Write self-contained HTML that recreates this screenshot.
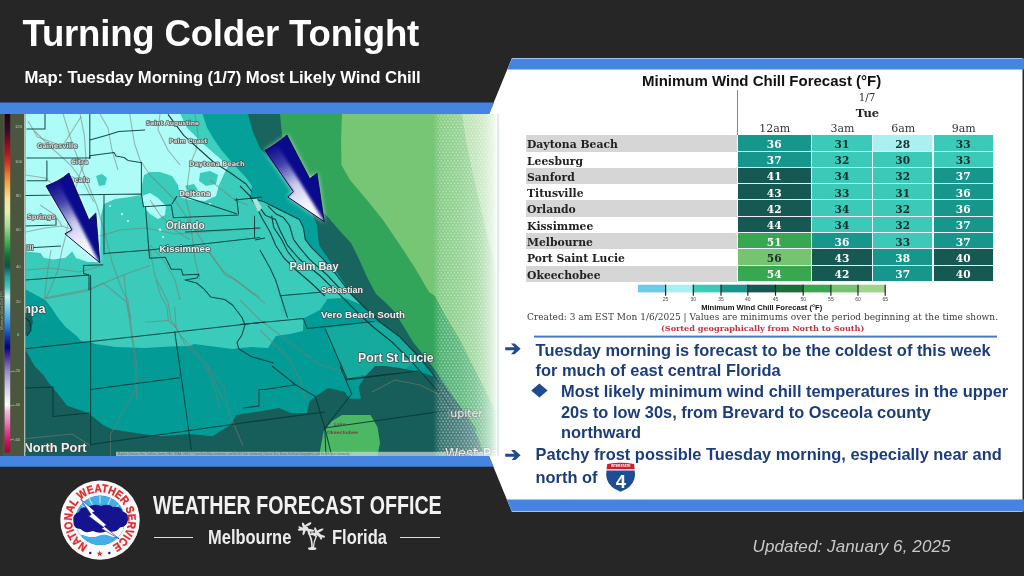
<!DOCTYPE html>
<html><head><meta charset="utf-8">
<style>
*{margin:0;padding:0;box-sizing:border-box}
html,body{width:1024px;height:576px;overflow:hidden;background:#262626}
body{position:relative;font-family:"Liberation Sans",sans-serif}
.abs{position:absolute;white-space:nowrap}
#title{left:22.5px;top:12.6px;font:bold 36.6px/41px "Liberation Sans",sans-serif;color:#fff;letter-spacing:-0.2px}
#sub{left:24.5px;top:67.8px;font:bold 16.7px/19px "Liberation Sans",sans-serif;color:#fff;letter-spacing:-0.1px}
#frame{position:absolute;left:0;top:0}
/* table */
#tt{left:642px;top:72px;font:bold 15px/17px "Liberation Sans",sans-serif;color:#111}
.ser{font-family:"DejaVu Serif",serif}
.lab{position:absolute;left:526px;width:211px;height:16px;font:bold 10.8px/16px "DejaVu Serif",serif;color:#222;padding-left:1px;padding-top:2px}
.lab.g{background:#d6d6d6}
.cell{position:absolute;height:16px;font:bold 10.6px/16px "DejaVu Serif",serif;text-align:center;border-right:1.2px solid #eef;border-bottom:1.2px solid #eef;padding-top:0.5px}
.hd{position:absolute;top:123.2px;font:11px/12px "DejaVu Serif",serif;color:#333;text-align:center}
.bul{position:absolute;font:bold 16.4px/20.6px "Liberation Sans",sans-serif;color:#1c3d7c;white-space:nowrap}
</style></head><body>

<svg id="frame" width="1024" height="576" viewBox="0 0 1024 576">
  <!-- right white panel -->
  <polygon points="512,58 1022.5,58 1022.5,512 512,512 489,456 489,114" fill="#ffffff"/>
  <!-- right top blue bar -->
  <polygon points="512,58.6 1024,58.6 1024,69.5 507.4,69.5" fill="#4684e2"/>
  <!-- right bottom blue bar -->
  <polygon points="506.8,499.6 1024,499.6 1024,511.6 512,511.6" fill="#4684e2"/>
  <!-- left top blue bar -->
  <polygon points="0,102.4 494,102.4 489.2,114.2 0,114.2" fill="#4684e2"/>
  <!-- left bottom blue bar -->
  <polygon points="0,456 489,456 493.6,466.8 0,466.8" fill="#4684e2"/>
  <!-- blue divider line -->
  <rect x="534" y="335.6" width="463" height="2" fill="#4a78c8"/>
</svg>

<div id="title" class="abs">Turning Colder Tonight</div>
<div id="sub" class="abs">Map: Tuesday Morning (1/7) Most Likely Wind Chill</div>

<svg class="abs" style="left:0;top:114px" width="500" height="342" viewBox="0 114 500 342">
<defs>
  <linearGradient id="fade" x1="433" y1="0" x2="500" y2="0" gradientUnits="userSpaceOnUse">
    <stop offset="0" stop-color="#fff" stop-opacity="0"/>
    <stop offset="0.12" stop-color="#fff" stop-opacity="0.12"/>
    <stop offset="0.4" stop-color="#fff" stop-opacity="0.22"/>
    <stop offset="0.63" stop-color="#fff" stop-opacity="0.36"/>
    <stop offset="0.75" stop-color="#fff" stop-opacity="0.5"/>
    <stop offset="0.85" stop-color="#fff" stop-opacity="0.68"/>
    <stop offset="0.925" stop-color="#fff" stop-opacity="0.86"/>
    <stop offset="0.965" stop-color="#fff" stop-opacity="1"/>
  </linearGradient>
  <pattern id="dots" x="0" y="0" width="3.3" height="5.6" patternUnits="userSpaceOnUse">
    <circle cx="0.8" cy="1.2" r="0.9" fill="#fff"/>
    <circle cx="2.45" cy="4" r="0.9" fill="#fff"/>
  </pattern>
  <linearGradient id="dotfade" x1="433" y1="0" x2="500" y2="0" gradientUnits="userSpaceOnUse">
    <stop offset="0" stop-color="#fff" stop-opacity="0"/>
    <stop offset="0.1" stop-color="#fff" stop-opacity="0.45"/>
    <stop offset="0.75" stop-color="#fff" stop-opacity="0.45"/>
    <stop offset="1" stop-color="#fff" stop-opacity="0"/>
  </linearGradient>
  <mask id="dotmask"><rect x="433" y="114" width="67" height="342" fill="url(#dotfade)"/></mask>
  <linearGradient id="leg" x1="0" y1="114" x2="0" y2="452" gradientUnits="userSpaceOnUse">
    <stop offset="0" stop-color="#1a0618"/>
    <stop offset="0.05" stop-color="#3a0c2a"/>
    <stop offset="0.08" stop-color="#7a0c22"/>
    <stop offset="0.12" stop-color="#c01420"/>
    <stop offset="0.15" stop-color="#e03828"/>
    <stop offset="0.18" stop-color="#f07838"/>
    <stop offset="0.21" stop-color="#f4b048"/>
    <stop offset="0.25" stop-color="#f6e09a"/>
    <stop offset="0.29" stop-color="#e8eeb0"/>
    <stop offset="0.33" stop-color="#a8dc98"/>
    <stop offset="0.36" stop-color="#6cc070"/>
    <stop offset="0.39" stop-color="#30a050"/>
    <stop offset="0.42" stop-color="#107030"/>
    <stop offset="0.45" stop-color="#105050"/>
    <stop offset="0.48" stop-color="#20a0a0"/>
    <stop offset="0.51" stop-color="#40c4c0"/>
    <stop offset="0.54" stop-color="#c4f2f2"/>
    <stop offset="0.57" stop-color="#80d0f0"/>
    <stop offset="0.6" stop-color="#50a8e8"/>
    <stop offset="0.63" stop-color="#2878d8"/>
    <stop offset="0.66" stop-color="#1038a8"/>
    <stop offset="0.69" stop-color="#000080"/>
    <stop offset="0.72" stop-color="#5030a0"/>
    <stop offset="0.76" stop-color="#9888c8"/>
    <stop offset="0.8" stop-color="#c8c0e4"/>
    <stop offset="0.84" stop-color="#eceaf4"/>
    <stop offset="0.86" stop-color="#ffffff"/>
    <stop offset="0.88" stop-color="#f4b8dc"/>
    <stop offset="0.91" stop-color="#f080c0"/>
    <stop offset="0.94" stop-color="#e04090"/>
    <stop offset="0.97" stop-color="#d01060"/>
    <stop offset="1" stop-color="#a80040"/>
  </linearGradient>
  <linearGradient id="arrg1" x1="74" y1="240" x2="87.5" y2="228" gradientUnits="userSpaceOnUse">
    <stop offset="0" stop-color="#f4f2ff"/>
    <stop offset="0.35" stop-color="#c8c6f4"/>
    <stop offset="0.6" stop-color="#4a48c0"/>
    <stop offset="0.8" stop-color="#14149c"/>
    <stop offset="1" stop-color="#06068a"/>
  </linearGradient>
  <linearGradient id="arrg2" x1="298.4" y1="198.9" x2="311.9" y2="186.9" gradientUnits="userSpaceOnUse">
    <stop offset="0" stop-color="#f4f2ff"/>
    <stop offset="0.35" stop-color="#c8c6f4"/>
    <stop offset="0.6" stop-color="#4a48c0"/>
    <stop offset="0.8" stop-color="#14149c"/>
    <stop offset="1" stop-color="#06068a"/>
  </linearGradient>
  <clipPath id="mapclip"><rect x="25.6" y="114" width="475" height="342"/></clipPath>
  <filter id="glow" x="-30%" y="-30%" width="160%" height="160%"><feGaussianBlur stdDeviation="2.5"/></filter>
  <filter id="tsh" x="-10%" y="-30%" width="120%" height="160%"><feMorphology operator="dilate" radius="0.6"/><feGaussianBlur stdDeviation="0.6"/></filter>
</defs>

<!-- legend -->
<rect x="0" y="114" width="25" height="342" fill="#4b563f"/>
<rect x="0" y="114" width="3" height="342" fill="#434d38"/>
<rect x="4.6" y="114" width="5.6" height="338.5" fill="url(#leg)"/>
<rect x="24.2" y="114" width="1.4" height="342" fill="#c8d8d0"/>
<g font-family="Liberation Sans" font-size="4.2" fill="#c8c8b8">
  <text x="15" y="128">120</text><text x="15" y="163">100</text><text x="16" y="197">80</text><text x="16" y="231">60</text>
  <text x="16" y="268">40</text><text x="16" y="303">20</text><text x="17" y="336">0</text><text x="14" y="372">-20</text>
  <text x="14" y="406">-40</text><text x="14" y="441">-60</text>
</g>
<g stroke="#c8c8b8" stroke-width="0.6"><line x1="10" y1="372" x2="14" y2="371"/><line x1="10" y1="406" x2="14" y2="405"/><line x1="10" y1="440" x2="14" y2="439"/></g>

<text transform="translate(3.4,330) rotate(-90)" font-family="Liberation Sans" font-size="3.6" fill="#aab4a4">Minimum Wind Chill (°F)</text>
<!-- map base: turquoise -->
<rect x="25.6" y="114" width="475" height="342" fill="#3acbbb"/>

<!-- light cyan north -->
<polygon fill="#aefcf8" points="25.6,114 180.6,114 187,127.6 202.5,143 213.4,152.6 222,160 228,166 224,174 219,185 216,196 205,201 190,200 180,197 178,185 172,176 160,172 150,172 144,175 142,185 141,195 130,197 115,199 104,204 101,215 100,252 72,251.5 65.6,257.8 53,259.4 43.75,257.8 40.6,253 25.6,251.5"/>
<polygon fill="#aefcf8" points="142,196 150,193 158,198 166,206 165,215 158,219 150,214 144,207"/>
<polygon fill="#aefcf8" points="72,251 100,250 100,262 88,262 76,258"/>
<!-- turquoise blobs in north -->
<polygon fill="#3acbbb" points="96,176 102,174 107,178 105,185 99,186"/>
<polygon fill="#3acbbb" points="200,173 210,171 218,175 216,184 206,186 199,181"/>
<polygon fill="#3acbbb" points="150,178 160,176 166,180 164,188 156,190 150,186"/>
<polygon fill="#3acbbb" points="185,186 194,184 198,190 190,194"/>
<!-- white specks -->
<g fill="#c0fcf8"><circle cx="122" cy="214" r="1.2"/><circle cx="128" cy="221" r="1"/><circle cx="160" cy="230" r="1.4"/><circle cx="163" cy="237" r="1"/><circle cx="110" cy="206" r="1"/><circle cx="210" cy="204" r="1.2"/></g>

<!-- teal south -->
<polygon fill="#039b96" points="25.6,289.4 45.3,300 51.6,308 57.8,317.5 65.6,327 76.6,336 81.25,341 90.6,342.5 95.3,344 115.6,347 145,348 170,346.4 190,346 194,344 232.5,349 240,348 252,347 268,348 276,336 290,334 303,331 303.4,318.6 304,300 325,299 345,298 362,305 380,322 400,337 420,358 435,377 435,456 25.6,456"/>
<polygon fill="#14aa9e" points="325,328.5 374.6,321.6 384,326 400,337 420,358 400,373 380,376 362,375 347,379 340,360 330,345"/>
<polygon fill="#34c6b8" points="279.6,296 323,292 327,300 320,310 303.4,318.6 282,316"/>
<!-- dark teal south -->
<polygon fill="#175d59" points="25.6,350 34.4,366 43.75,375.4 48.4,382.4 60,396.5 67.2,405.8 88.3,413 102.3,424.6 111.7,429.3 142,434 161,436.3 189,434 212.5,436.3 231,424.6 236,415 265,410.5 279,408 290.8,413 307,413 309.5,401 319,394 328,388 344.7,391.8 349.4,398.8 361,398.8 358.7,387 365.8,375.4 375,366 385,366 400,368 420,372 435,377 500,377 500,456 25.6,456"/>
<polygon fill="#175d59" points="25.6,308 30,311 33,322 30,333 25.6,336"/>
<!-- lake -->
<polygon fill="#4cb864" points="342,415 370.5,415 377.5,427 380,443 377.5,456 319,456 323.6,431.6 332,421"/>

<!-- ocean bands -->
<polygon fill="#3ccfbe" points="180.6,114 187,127.6 202.5,143 213.4,152.6 222,160 228,166 240,184 246,192 249.9,197.8 263.8,201.8 279.6,209.7 299.4,219.6 303.4,227.5 305.3,239.4 311.3,247.3 323.2,259.2 335,273 350.9,294 362,305 380,322 400,337 420,358 435,377 450,395 465,415 480,440 490,456 500,456 500,114"/>
<polygon fill="#05a09a" points="202.5,114 207,127.6 213.4,138.6 221,149.5 229,159 237,168 246,177.6 252,186 249.9,197.8 263.8,201.8 279.6,209.7 299.4,219.6 303.4,227.5 305.3,239.4 311.3,247.3 323.2,259.2 335,273 350.9,294 362,305 380,322 400,337 420,358 435,377 450,395 465,415 480,440 490,456 500,456 500,114"/>
<polygon fill="#18655f" points="248,114 252.5,130.75 260,148 270,160 282,175 295,190 308,205 317,225 319,245 331,263 342,280 351,294 362,305 380,322 400,337 420,358 435,377 450,395 465,415 480,440 490,456 500,456 500,114"/>
<polygon fill="#33a55b" points="280,114 282,135 286,150 300,174 312,195 322,212 327,216 339,230 351,243 359,259 367,277 376,294 385,302 394,311 404,327 413,342 426,358 438,374 450,392 462,410 475,430 485,456 500,456 500,114"/>
<polygon fill="#76c676" points="342,114 341,140 341.5,165 350,180 367,200 383,220 400,245 415,268 429,292 435,296 445,315 460,340 475,370 490,400 500,420 500,114"/>

<polygon fill="#a4d89a" points="462,114 466,140 472,170 479,200 486,231 494,262 500,286 500,114"/>
<!-- roads -->
<g fill="none" stroke="#7a7c70" stroke-width="1.1" stroke-opacity="0.55" stroke-linejoin="round">
  <polyline points="62.5,112 72,143 84,174.5 97,206 106,237 112,262 122,290 128,300 133,342 137.5,370 135,389.4 118.75,420 110.5,434 110.5,456"/>
  <polyline points="79.7,112 84.4,135.4 86,159 79.7,174.5 75,190 70,210 66,235 62,250 58,270 50,290 45.3,298.75"/>
  <polyline points="45.3,298.75 87.5,291 103,283 126.6,302 131,319"/>
  <polyline points="129.7,114 134.4,143 140,160 150,175 165,190 175,200 185,215 195,230 205,245 215,260 225,275 235.6,280 265,303.4"/>
  <polyline points="28,121 37.5,137 62.5,146 81,116.7"/>
  <polyline points="156,280 160.6,295.6 166.9,306.6 168.4,320.6 176,327 185.6,345.6 196.6,355 207.5,370 215,390 220,410"/>
  <polyline points="174.7,306.6 176,327"/>
  <polyline points="145,322 168.4,320.6"/>
  <polyline points="207.8,366 224,387 229,413 243,445.7"/>
  <polyline points="25,438.6 72,434 90.6,445.7"/>
  <polyline points="25.6,232 45,228 62,226 80,232 100,236 120,230 145,228 175,234 205,232 235,230 262,228"/>
  <polyline points="195,114 198,135 196,150 190,165 188,180 186,200 190,215 192,235 195,260 200,280"/>
  <polyline points="160,114 158,130 168,150 180,165"/>
  <polyline points="210,180 222,190 235,200 248,205"/>
  <polyline points="150,245 165,262 175,280 180,300"/>
  <polyline points="40,205 55,215 62,226"/>
  <polyline points="240,300 260,320 280,335 300,350 320,365 345,372"/>
  <polyline points="372,392 395,380 420,385 440,395"/>
  <polyline points="25.6,270 50,268 80,272 104,265"/>
  <polyline points="51,250 47,275 44.5,298"/>
  <polyline points="44.5,298 90,289 124,274.7 150,265.6"/>
  <polyline points="124,274.7 126.6,302 134.4,354 137,400"/>
  <polyline points="150,250 155,276 168,302 171,320 181,336 207,364.6 223,400"/>
  <polyline points="207,250 223,271 259,297"/>
  <polyline points="34.4,130.75 51.6,148 65.6,160.4 71.9,166.7 84.4,184 93.75,202"/>
  <polyline points="100,114 108,128 112,150 118,170"/>
  <polyline points="25.6,175 45,178 60,190 80,196"/>
  <polyline points="150,200 160,215 175,230 190,240"/>
  <polyline points="260,330 275,345 290,360 300,380 305,400"/>
</g>

<!-- county lines -->
<g fill="none" stroke="#073a37" stroke-width="1.05" stroke-opacity="0.9" stroke-linejoin="round">
  <polyline points="89.8,114 89.8,159"/>
  <polyline points="89.8,140 106,135.4 118.75,131.5 145,130"/>
  <polyline points="45,114 45,129 26.5,129"/>
  <polyline points="26.5,158 89.8,158 89.8,155.75 114,152.6 116,156 124,157.5 128,160.4 142,162.8"/>
  <polyline points="141.4,162 141.4,194.5"/>
  <polyline points="25.6,195.5 141.4,194 143.5,206.8 171.3,204.9 173.3,217.7 238.6,215"/>
  <polyline points="46.9,160.4 46.9,180.75 26.5,180.75"/>
  <polyline points="104,195 104,254.7"/>
  <polyline points="104,253.4 149.5,250 260,237.5"/>
  <polyline points="145.5,207 149.5,258.3 165.3,257.3 171.3,269.2 181.2,269.2 183,275 199,274.2 197,278 185,280 196.6,283 204.4,289.4 210.6,297 224.7,299.5 232.5,305 242,317.5 245,325 242,334.7 237,342.5 238.75,348.75 251,356.5 265,360.5 273.7,363"/>
  <polyline points="177,196 172,204"/>
  <polyline points="183,196 236.6,213.8"/>
  <polyline points="234.6,200 262,197"/>
  <polyline points="236.6,198 238.6,214"/>
  <polyline points="254.5,215.7 254.5,237.5"/>
  <polyline points="185,232 260,228"/>
  <polyline points="25.6,226 56,225 56,218"/>
  <polyline points="25.6,248 61,246"/>
  <polyline points="83.6,265.6 103,264.8"/>
  <polyline points="83.6,265.6 83.6,273.4 89,275"/>
  <polyline points="25.6,280 89,275 89,290"/>
  <polyline points="90.6,275 90.6,446"/>
  <polyline points="25.6,348.75 145,335.5 265,322"/>
  <polyline points="174.7,331.6 179.7,366 191.4,450"/>
  <polyline points="25.6,388 53,387 53,416.4 89.4,413"/>
  <polyline points="90.6,389.4 179.7,377.7"/>
  <polyline points="90.6,444.5 247.6,422.2 324.8,412"/>
  <polyline points="243,408 259,406 259,389.4 265,389.4 295.5,384.75"/>
  <polyline points="272,366 295.5,384.75 315.4,396.5 324.8,428 331.8,456"/>
  <polyline points="324.8,428 326,456"/>
  <polyline points="340,366 351.7,394 324.8,428"/>
  <polyline points="345.8,380 419.7,370.7"/>
  <polyline points="324.8,428 447.8,410.5"/>
  <polyline points="275.6,280 287.5,317.6"/>
  <polyline points="279.6,295.8 323,292"/>
  <polyline points="240,324.5 303.4,318.6 307.3,328.5 374.6,321.6"/>
  <polyline points="325,328.5 347,379 400,373"/>
  <polyline points="260,250 270,268 275.6,280"/>
  <polyline points="255,240 265,238"/>
</g>
<!-- coast lines -->
<g fill="none" stroke="#073a37" stroke-width="1.1" stroke-opacity="0.95" stroke-linejoin="round">
  <polyline points="168,114.3 183.75,135.4 199.4,149.5 213.4,162 230.6,173 246,184 252,192"/>
  <polyline points="249.9,197.8 263.8,201.8 279.6,209.7 299.4,219.6 303.4,227.5 305.3,239.4 311.3,247.3 323.2,259.2 335,273 350.9,294 362,305 380,322 400,337 420,358 435,377 450,395 462,410 476,430"/>
  <polyline points="251.9,199.8 259.8,207.7 265.7,215.6 275.6,219.6 279.6,229.5 287.5,245.3 299.4,259.2 319.2,275 339,294 355,310 372,326 392,342 412,362 428,380 442,396 455,412"/>
  <polyline points="267.7,205.7 275.6,213.7 283.6,217.6 289.5,225.5 293.5,239.4 299.4,247.3 309.3,259.2 327.1,275 345,294"/>
  <polyline points="271.7,215.6 273.7,227.5 281.6,239.4 287.5,251.3 296,262"/>
  <polyline points="240,186 250,196 256,206 262,218 270,232 276,246 284,258 296,270 310,282 325,296"/>
  <polyline points="25.6,318 30,322 31,330 27,336"/>
</g>
<g fill="#a6e4dc"><polygon points="252,199 257,199 262,208 258,212"/></g>

<!-- attribution strip -->
<rect x="116" y="451.8" width="384" height="4.2" fill="#c4d6d0" fill-opacity="0.75"/>
<g fill="#56706a" font-family="Liberation Sans" font-size="2.6"><text x="118" y="455">Mapbox | Sources: Esri, TomTom, Garmin, FAO, NOAA, USGS, © OpenStreetMap contributors, and the GIS User Community | Source: Esri, Maxar, Earthstar Geographics, and the GIS User Community</text></g>

<!-- labels -->
<g clip-path="url(#mapclip)" font-family="DejaVu Sans" font-weight="bold" fill="#f0f0f0" style="paint-order:stroke" stroke="#3a4846" stroke-width="1.4" stroke-linejoin="round" stroke-opacity="0.85">
  <text x="146" y="125" font-size="5.9" fill="#d8d8d8">Saint Augustine</text>
  <text x="169" y="142.5" font-size="6.1" fill="#d8d8d8">Palm Coast</text>
  <text x="189" y="166" font-size="6.6" fill="#d8d8d8">Daytona Beach</text>
  <text x="37" y="148" font-size="6.6" fill="#d8d8d8">Gainesville</text>
  <text x="71" y="164" font-size="6.4" fill="#d8d8d8">Citra</text>
  <text x="69" y="181.5" font-size="6.6" fill="#d8d8d8">Ocala</text>
  <text x="27" y="219" font-size="6.6" fill="#d8d8d8">Springs</text>
  <text x="21.5" y="250" font-size="6.6" fill="#d8d8d8">Hill</text>
  <text x="179" y="195.5" font-size="7.2" fill="#e0e0e0">Deltona</text>
  <text x="166" y="228.5" font-size="10.05" font-weight="bold" font-family="Liberation Sans">Orlando</text>
  <text x="159.5" y="252" font-size="9.63" font-weight="bold" font-family="Liberation Sans">Kissimmee</text>
  <text x="289.5" y="269.5" font-size="10.89" font-weight="bold" font-family="Liberation Sans">Palm Bay</text>
  <text x="321" y="293" font-size="8.90" font-weight="bold" font-family="Liberation Sans">Sebastian</text>
  <text x="321" y="317.8" font-size="9.84" font-weight="bold" font-family="Liberation Sans">Vero Beach South</text>
  <text x="358" y="361.5" font-size="12.25" font-weight="bold" font-family="Liberation Sans">Port St Lucie</text>
  <text x="6" y="312.5" font-size="12.56" font-weight="bold" font-family="Liberation Sans">Tampa</text>
  <text x="447" y="417" font-size="11" font-weight="normal" fill-opacity="0.9"><tspan fill-opacity="0.15" stroke-opacity="0.1">J</tspan>upiter</text>
  <text x="445" y="457.5" font-size="13.6" font-weight="normal" fill-opacity="0.9">West Pa</text>
  <text x="23.5" y="451.6" font-size="12.77" font-weight="bold" font-family="Liberation Sans">North Port</text>
  <text x="334" y="426" font-size="4.5" fill="#6a5040" stroke="none">Lake</text>
  <text x="327" y="434" font-size="4.5" fill="#6a5040" stroke="none">Okeechobee</text>
</g>

<!-- arrows -->
<defs>
  <clipPath id="a1c"><path d="M68.9,173 C62,179 54,183 46,186 L71.9,229.8 L64.9,233.8 L99.8,262.7 L95.8,212.9 L88.9,219.9 Z"/></clipPath>
  <clipPath id="a2c"><path d="M286.9,135 C280,141 272,146.5 265,150.5 L293.3,191.5 L287.8,197 L324.2,221.6 L317,173.3 L309.7,178.8 Z"/></clipPath>
  <linearGradient id="a1l" x1="55" y1="182" x2="84" y2="246" gradientUnits="userSpaceOnUse">
    <stop offset="0" stop-color="#f0f0ff" stop-opacity="0"/>
    <stop offset="0.3" stop-color="#e8e8ff" stop-opacity="0.25"/>
    <stop offset="0.65" stop-color="#eeeeff" stop-opacity="0.85"/>
    <stop offset="1" stop-color="#f6f6ff" stop-opacity="1"/>
  </linearGradient>
  <linearGradient id="a2l" x1="274" y1="145" x2="308" y2="205" gradientUnits="userSpaceOnUse">
    <stop offset="0" stop-color="#f0f0ff" stop-opacity="0"/>
    <stop offset="0.3" stop-color="#e8e8ff" stop-opacity="0.25"/>
    <stop offset="0.65" stop-color="#eeeeff" stop-opacity="0.85"/>
    <stop offset="1" stop-color="#f6f6ff" stop-opacity="1"/>
  </linearGradient>
  <filter id="soft" x="-20%" y="-20%" width="140%" height="140%"><feGaussianBlur stdDeviation="1.6"/></filter>
</defs>
<path d="M68.9,173 C62,179 54,183 46,186 L71.9,229.8 L64.9,233.8 L99.8,262.7 L95.8,212.9 L88.9,219.9 Z" fill="#fff" filter="url(#glow)" opacity="0.75"/>
<path d="M68.9,173 C62,179 54,183 46,186 L71.9,229.8 L64.9,233.8 L99.8,262.7 L95.8,212.9 L88.9,219.9 Z" fill="#0a0a8e"/>
<g clip-path="url(#a1c)"><polygon points="40,186 71.9,229.8 60,236 102,268 57.5,179.5" fill="url(#a1l)" filter="url(#soft)"/></g>
<path d="M68.9,173 C62,179 54,183 46,186 L71.9,229.8 L64.9,233.8 L99.8,262.7 L95.8,212.9 L88.9,219.9 Z" fill="none" stroke="#08083a" stroke-width="0.9"/>
<path d="M286.9,135 C280,141 272,146.5 265,150.5 L293.3,191.5 L287.8,197 L324.2,221.6 L317,173.3 L309.7,178.8 Z" fill="#fff" filter="url(#glow)" opacity="0.75"/>
<path d="M286.9,135 C280,141 272,146.5 265,150.5 L293.3,191.5 L287.8,197 L324.2,221.6 L317,173.3 L309.7,178.8 Z" fill="#0a0a8e"/>
<g clip-path="url(#a2c)"><polygon points="259,150.5 293.3,191.5 283,200 327,226 276,142.75" fill="url(#a2l)" filter="url(#soft)"/></g>
<path d="M286.9,135 C280,141 272,146.5 265,150.5 L293.3,191.5 L287.8,197 L324.2,221.6 L317,173.3 L309.7,178.8 Z" fill="none" stroke="#08083a" stroke-width="0.9"/>

<!-- halftone fade -->
<rect x="433" y="114" width="67" height="342" fill="url(#fade)"/>
<rect x="433" y="114" width="67" height="342" fill="url(#dots)" mask="url(#dotmask)"/>
<rect x="497" y="114" width="2.2" height="342" fill="#dde6e2" fill-opacity="0.8"/>
</svg>


<div id="tt" class="abs">Minimum Wind Chill Forecast (°F)</div>
<div class="abs" style="left:737px;top:90px;width:1px;height:45px;background:#888"></div>
<div class="abs ser" style="left:857px;top:90.8px;width:20px;text-align:center;font-size:10.4px;line-height:12px;color:#2a2a2a">1/7</div>
<div class="abs ser" style="left:852.5px;top:107.3px;width:30px;text-align:center;font-weight:bold;font-size:11.6px;line-height:12px;color:#222">Tue</div>
<div class="hd" style="left:737.5px;width:74.4px">12am</div>
<div class="hd" style="left:811.9px;width:61.0px">3am</div>
<div class="hd" style="left:872.9px;width:60.6px">6am</div>
<div class="hd" style="left:933.5px;width:60.4px">9am</div>
<div class="lab g" style="top:135.3px;height:16.28px">Daytona Beach</div>
<div class="cell" style="left:737.5px;top:135.3px;width:74.4px;height:16.28px;background:#17968c;color:#ffffff">36</div>
<div class="cell" style="left:811.9px;top:135.3px;width:61.0px;height:16.28px;background:#3ccab8;color:#1a2e2e">31</div>
<div class="cell" style="left:872.9px;top:135.3px;width:60.6px;height:16.28px;background:#aaf0f0;color:#1a2e2e">28</div>
<div class="cell" style="left:933.5px;top:135.3px;width:60.4px;height:16.28px;background:#3ccab8;color:#1a2e2e">33</div>
<div class="lab" style="top:151.6px;height:16.28px">Leesburg</div>
<div class="cell" style="left:737.5px;top:151.6px;width:74.4px;height:16.28px;background:#17968c;color:#ffffff">37</div>
<div class="cell" style="left:811.9px;top:151.6px;width:61.0px;height:16.28px;background:#3ccab8;color:#1a2e2e">32</div>
<div class="cell" style="left:872.9px;top:151.6px;width:60.6px;height:16.28px;background:#3ccab8;color:#1a2e2e">30</div>
<div class="cell" style="left:933.5px;top:151.6px;width:60.4px;height:16.28px;background:#3ccab8;color:#1a2e2e">33</div>
<div class="lab g" style="top:167.9px;height:16.28px">Sanford</div>
<div class="cell" style="left:737.5px;top:167.9px;width:74.4px;height:16.28px;background:#165852;color:#ffffff">41</div>
<div class="cell" style="left:811.9px;top:167.9px;width:61.0px;height:16.28px;background:#3ccab8;color:#1a2e2e">34</div>
<div class="cell" style="left:872.9px;top:167.9px;width:60.6px;height:16.28px;background:#3ccab8;color:#1a2e2e">32</div>
<div class="cell" style="left:933.5px;top:167.9px;width:60.4px;height:16.28px;background:#17968c;color:#ffffff">37</div>
<div class="lab" style="top:184.1px;height:16.28px">Titusville</div>
<div class="cell" style="left:737.5px;top:184.1px;width:74.4px;height:16.28px;background:#165852;color:#ffffff">43</div>
<div class="cell" style="left:811.9px;top:184.1px;width:61.0px;height:16.28px;background:#3ccab8;color:#1a2e2e">33</div>
<div class="cell" style="left:872.9px;top:184.1px;width:60.6px;height:16.28px;background:#3ccab8;color:#1a2e2e">31</div>
<div class="cell" style="left:933.5px;top:184.1px;width:60.4px;height:16.28px;background:#17968c;color:#ffffff">36</div>
<div class="lab g" style="top:200.4px;height:16.28px">Orlando</div>
<div class="cell" style="left:737.5px;top:200.4px;width:74.4px;height:16.28px;background:#165852;color:#ffffff">42</div>
<div class="cell" style="left:811.9px;top:200.4px;width:61.0px;height:16.28px;background:#3ccab8;color:#1a2e2e">34</div>
<div class="cell" style="left:872.9px;top:200.4px;width:60.6px;height:16.28px;background:#3ccab8;color:#1a2e2e">32</div>
<div class="cell" style="left:933.5px;top:200.4px;width:60.4px;height:16.28px;background:#17968c;color:#ffffff">36</div>
<div class="lab" style="top:216.7px;height:16.28px">Kissimmee</div>
<div class="cell" style="left:737.5px;top:216.7px;width:74.4px;height:16.28px;background:#165852;color:#ffffff">44</div>
<div class="cell" style="left:811.9px;top:216.7px;width:61.0px;height:16.28px;background:#3ccab8;color:#1a2e2e">34</div>
<div class="cell" style="left:872.9px;top:216.7px;width:60.6px;height:16.28px;background:#3ccab8;color:#1a2e2e">32</div>
<div class="cell" style="left:933.5px;top:216.7px;width:60.4px;height:16.28px;background:#17968c;color:#ffffff">37</div>
<div class="lab g" style="top:233.0px;height:16.28px">Melbourne</div>
<div class="cell" style="left:737.5px;top:233.0px;width:74.4px;height:16.28px;background:#38a850;color:#ffffff">51</div>
<div class="cell" style="left:811.9px;top:233.0px;width:61.0px;height:16.28px;background:#17968c;color:#ffffff">36</div>
<div class="cell" style="left:872.9px;top:233.0px;width:60.6px;height:16.28px;background:#3ccab8;color:#1a2e2e">33</div>
<div class="cell" style="left:933.5px;top:233.0px;width:60.4px;height:16.28px;background:#17968c;color:#ffffff">37</div>
<div class="lab" style="top:249.3px;height:16.28px">Port Saint Lucie</div>
<div class="cell" style="left:737.5px;top:249.3px;width:74.4px;height:16.28px;background:#76c470;color:#1a2e2e">56</div>
<div class="cell" style="left:811.9px;top:249.3px;width:61.0px;height:16.28px;background:#165852;color:#ffffff">43</div>
<div class="cell" style="left:872.9px;top:249.3px;width:60.6px;height:16.28px;background:#17968c;color:#ffffff">38</div>
<div class="cell" style="left:933.5px;top:249.3px;width:60.4px;height:16.28px;background:#165852;color:#ffffff">40</div>
<div class="lab g" style="top:265.5px;height:16.28px">Okeechobee</div>
<div class="cell" style="left:737.5px;top:265.5px;width:74.4px;height:16.28px;background:#38a850;color:#ffffff">54</div>
<div class="cell" style="left:811.9px;top:265.5px;width:61.0px;height:16.28px;background:#165852;color:#ffffff">42</div>
<div class="cell" style="left:872.9px;top:265.5px;width:60.6px;height:16.28px;background:#17968c;color:#ffffff">37</div>
<div class="cell" style="left:933.5px;top:265.5px;width:60.4px;height:16.28px;background:#165852;color:#ffffff">40</div>
<svg class="abs" style="left:630px;top:280px" width="270" height="32" viewBox="630 280 270 32">
<rect x="637.9" y="284.7" width="27.7" height="7.7" fill="#6ccbea"/>
<rect x="665.6" y="284.7" width="27.7" height="7.7" fill="#aaf0f0"/>
<rect x="693.3" y="284.7" width="27.7" height="7.7" fill="#3ccab8"/>
<rect x="721" y="284.7" width="26.8" height="7.7" fill="#17968c"/>
<rect x="747.8" y="284.7" width="27.7" height="7.7" fill="#165852"/>
<rect x="775.5" y="284.7" width="27.7" height="7.7" fill="#1a6e38"/>
<rect x="803.2" y="284.7" width="27.7" height="7.7" fill="#38a850"/>
<rect x="830.9" y="284.7" width="27.1" height="7.7" fill="#76c470"/>
<rect x="858" y="284.7" width="27.2" height="7.7" fill="#a0d48c"/>
<rect x="665.0" y="284.7" width="1.2" height="11" fill="#222"/>
<text x="665.6" y="301" font-family="Liberation Sans" font-size="5" fill="#444" text-anchor="middle">25</text>
<rect x="692.7" y="284.7" width="1.2" height="11" fill="#222"/>
<text x="693.3" y="301" font-family="Liberation Sans" font-size="5" fill="#444" text-anchor="middle">30</text>
<rect x="720.4" y="284.7" width="1.2" height="11" fill="#222"/>
<text x="721.0" y="301" font-family="Liberation Sans" font-size="5" fill="#444" text-anchor="middle">35</text>
<rect x="747.2" y="284.7" width="1.2" height="11" fill="#222"/>
<text x="747.8" y="301" font-family="Liberation Sans" font-size="5" fill="#444" text-anchor="middle">40</text>
<rect x="774.9" y="284.7" width="1.2" height="11" fill="#222"/>
<text x="775.5" y="301" font-family="Liberation Sans" font-size="5" fill="#444" text-anchor="middle">45</text>
<rect x="802.6" y="284.7" width="1.2" height="11" fill="#222"/>
<text x="803.2" y="301" font-family="Liberation Sans" font-size="5" fill="#444" text-anchor="middle">50</text>
<rect x="830.3" y="284.7" width="1.2" height="11" fill="#222"/>
<text x="830.9" y="301" font-family="Liberation Sans" font-size="5" fill="#444" text-anchor="middle">55</text>
<rect x="857.4" y="284.7" width="1.2" height="11" fill="#222"/>
<text x="858.0" y="301" font-family="Liberation Sans" font-size="5" fill="#444" text-anchor="middle">60</text>
<rect x="884.6" y="284.7" width="1.2" height="11" fill="#222"/>
<text x="885.2" y="301" font-family="Liberation Sans" font-size="5" fill="#444" text-anchor="middle">65</text>
<text x="761.7" y="309.5" font-family="Liberation Sans" font-weight="bold" font-size="7.6" fill="#111" text-anchor="middle">Minimum Wind Chill Forecast (°F)</text>
</svg>
<div class="abs ser" style="left:527px;top:311.5px;font-size:9px;line-height:11px;color:#3c3c3c;letter-spacing:0.02px">Created: 3 am EST Mon 1/6/2025 | Values are minimums over the period beginning at the time shown.</div>
<div class="abs ser" style="left:661px;top:322.5px;font-size:8.2px;line-height:11px;font-weight:bold;color:#c4343e;letter-spacing:-0.05px">(Sorted geographically from North to South)</div>


<svg class="abs" style="left:503px;top:340px" width="20" height="120" viewBox="503 340 20 120">
  <path id="arr" d="M505.2,347.3 L514.5,347.3 L511,343.4 L514.6,343.4 L520.6,348.8 L514.6,354.2 L511,354.2 L514.5,350.3 L505.2,350.3 Z" fill="#1f4a8e"/>
  <use href="#arr" transform="translate(0,106.5)"/>
</svg>
<svg class="abs" style="left:528px;top:380px" width="24" height="22" viewBox="528 380 24 22">
  <polygon points="539.4,383.6 547.6,390.6 539.4,397.6 531.2,390.6" fill="#1f4a8e"/>
</svg>
<div class="bul" style="left:535.6px;top:339.6px">Tuesday morning is forecast to be the coldest of this week</div>
<div class="bul" style="left:535.6px;top:360.2px">for much of east central Florida</div>
<div class="bul" style="left:561px;top:380.9px">Most likely minimum wind chill temperatures in the upper</div>
<div class="bul" style="left:561px;top:401.6px">20s to low 30s, from Brevard to Osceola county</div>
<div class="bul" style="left:561px;top:421.8px">northward</div>
<div class="bul" style="left:535.6px;top:444.2px">Patchy frost possible Tuesday morning, especially near and</div>
<div class="bul" style="left:535.6px;top:466.7px">north of</div>
<svg class="abs" style="left:604px;top:461px" width="33" height="33" viewBox="604 461 33 33"><g transform="translate(620.6,477) scale(1.06) translate(-620.6,-477)">
  <path d="M606.7,463.5 Q620.6,460.8 634.6,463.5 Q636.5,470 635,478 Q632,488.5 620.6,492.5 Q609.2,488.5 606.2,478 Q604.7,470 606.7,463.5 Z" fill="#fff"/>
  <path d="M608,464.8 Q620.6,462.3 633.3,464.8 L633.9,469.6 L607.3,469.6 Z" fill="#c8202c"/>
  <path d="M607.3,470.8 L633.9,470.8 Q634.8,476 633.6,479 Q631,487.3 620.6,491 Q610.2,487.3 607.6,479 Q606.4,476 607.3,470.8 Z" fill="#1f4d92"/>
  <text x="620.6" y="467.9" font-family="Liberation Sans" font-size="3" font-weight="bold" fill="#fff" text-anchor="middle">INTERSTATE</text>
  <text x="620.8" y="487.6" font-family="Liberation Sans" font-size="18" font-weight="bold" fill="#fff" text-anchor="middle" textLength="9.6" lengthAdjust="spacingAndGlyphs">4</text>
</g></svg>

<div class="abs" style="left:752.5px;top:537px;font:italic 17px/19px 'Liberation Sans',sans-serif;color:#c9c9c9;letter-spacing:0.1px">Updated: January 6, 2025</div>
<div class="abs" id="wfo" style="left:152.7px;top:490px;font:bold 26.4px/30px 'Liberation Sans',sans-serif;color:#f2f2f2;transform-origin:0 0;transform:scaleX(0.744)">WEATHER FORECAST OFFICE</div>
<div class="abs" style="left:153.6px;top:536.8px;width:39.4px;height:1.6px;background:#e0e0e0"></div>
<div class="abs" style="left:400.4px;top:536.8px;width:39.4px;height:1.6px;background:#e0e0e0"></div>
<div class="abs" id="mel" style="left:208px;top:524.5px;font:bold 20.6px/24px 'Liberation Sans',sans-serif;color:#ededed;transform-origin:0 0;transform:scaleX(0.8)">Melbourne</div>
<div class="abs" id="fla" style="left:332px;top:524.5px;font:bold 20.6px/24px 'Liberation Sans',sans-serif;color:#ededed;transform-origin:0 0;transform:scaleX(0.8)">Florida</div>
<svg class="abs" style="left:296px;top:520px" width="30" height="32" viewBox="296 520 30 32">
  <g fill="#e4e4e4">
    <path d="M307.6,533 Q311.5,539 311.2,548 L312.8,548 Q313.2,538 309,532.6 Z"/>
    <path d="M316,535.5 Q313.2,541 312.6,548 L314,548 Q314.6,541 317.2,536 Z"/>
    <ellipse cx="312.2" cy="548.6" rx="4.2" ry="1.5"/>
    <g transform="translate(306.4,528.8)">
      <ellipse cx="-4" cy="-1" rx="4.6" ry="1.3" transform="rotate(-15)"/>
      <ellipse cx="-3.6" cy="2.6" rx="4.2" ry="1.2" transform="rotate(35)"/>
      <ellipse cx="-1.5" cy="-3.5" rx="1.3" ry="3.8" transform="rotate(-20)"/>
      <ellipse cx="3.2" cy="-2.8" rx="4.2" ry="1.2" transform="rotate(-30)"/>
      <ellipse cx="4" cy="0.8" rx="4" ry="1.2" transform="rotate(10)"/>
      <ellipse cx="1" cy="3.6" rx="1.2" ry="3.4" transform="rotate(-25)"/>
      <ellipse cx="-1.5" cy="3.5" rx="1.2" ry="3.6" transform="rotate(15)"/>
      <circle r="2"/>
    </g>
    <g transform="translate(317.6,533.8)">
      <ellipse cx="-3.6" cy="-0.6" rx="4" ry="1.2" transform="rotate(-10)"/>
      <ellipse cx="-1" cy="-3.4" rx="1.2" ry="3.6" transform="rotate(-15)"/>
      <ellipse cx="3.4" cy="-2" rx="4" ry="1.2" transform="rotate(-25)"/>
      <ellipse cx="4" cy="1.2" rx="4" ry="1.2" transform="rotate(15)"/>
      <ellipse cx="1.6" cy="3.4" rx="1.2" ry="3.4" transform="rotate(-20)"/>
      <ellipse cx="-2.4" cy="2.8" rx="3.4" ry="1.1" transform="rotate(40)"/>
      <circle r="1.8"/>
    </g>
  </g>
</svg>

<svg class="abs" style="left:58px;top:478px" width="84" height="84" viewBox="58 478 84 84">
  <defs>
    <path id="ring" d="M87.7,545.3 A28,28 0 1 1 112.3,545.3"/>
    <clipPath id="inner"><circle cx="100.2" cy="520.3" r="24.6"/></clipPath>
  </defs>
  <circle cx="100" cy="520.1" r="39.7" fill="#fafafa"/>
  <circle cx="100.2" cy="520.3" r="24.8" fill="#2a78c8"/>
  <g clip-path="url(#inner)">
    <rect x="74" y="494" width="54" height="52" fill="#46aee6"/>
    <g stroke="#e8f4ff" stroke-width="0.9">
      <line x1="100" y1="520" x2="100" y2="494"/>
      <line x1="100" y1="520" x2="88" y2="496"/>
      <line x1="100" y1="520" x2="112" y2="496"/>
      <line x1="100" y1="520" x2="79" y2="503"/>
      <line x1="100" y1="520" x2="121" y2="503"/>
    </g>
    <circle cx="100.2" cy="520.3" r="17" fill="#46aee6"/>
    <rect x="74" y="527" width="54" height="10" fill="#ffffff"/>
    <path d="M74,536 Q80,533.5 86,536 T98,536 T110,536 T122,536 T134,536 L134,546 L74,546 Z" fill="#46aee6"/>
  </g>
  <path d="M73.5,522 Q72,514 79,512 Q80,506 88,507.5 Q93,503 101,506 Q108,503 113,507 Q121,506 122.5,511.5 Q129,513 128,520 Q127,527 120,527.5 Q116,533.5 107,531 Q100,534.5 93,531 Q85,534 80.5,529 Q73,529 73.5,522 Z" fill="#14148e"/>
  <path d="M80.6,499 L95,511.5 L92.4,512.6 L106.6,525.2 L104.2,526.2 L119.3,539 L101.4,528.4 L103.8,527.4 L88.6,516 L91.2,514.8 Z" fill="#fff" stroke="#14148e" stroke-width="0.6"/>
  <text font-family="Liberation Sans" font-weight="bold" font-size="11.4" fill="#e0282c" stroke="#e0282c" stroke-width="0.35" letter-spacing="0">
    <textPath href="#ring" startOffset="50%" text-anchor="middle" textLength="150" lengthAdjust="spacingAndGlyphs">NATIONAL WEATHER SERVICE</textPath>
  </text>
  <circle cx="90.3" cy="553" r="1.2" fill="#14148e"/>
  <circle cx="109.3" cy="553" r="1.2" fill="#14148e"/>
  <polygon points="99.7,550.6 100.5,552.8 102.8,552.8 101,554.2 101.6,556.4 99.7,555.1 97.8,556.4 98.4,554.2 96.6,552.8 98.9,552.8" fill="#e0282c"/>
</svg>



</body></html>
